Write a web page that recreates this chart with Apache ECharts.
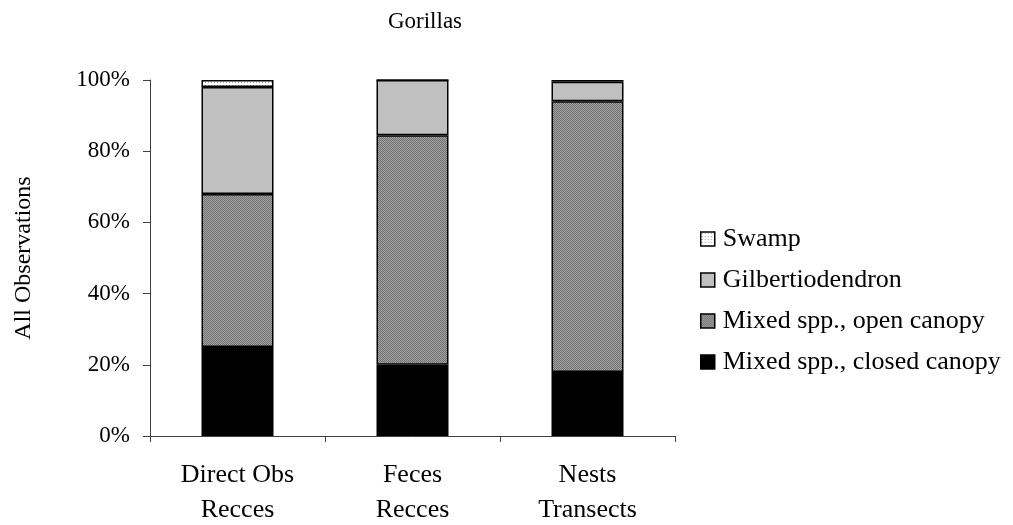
<!DOCTYPE html>
<html><head><meta charset="utf-8">
<script src="https://cdn.jsdelivr.net/npm/echarts@6/dist/echarts.min.js"></script>
<style>html,body{margin:0;padding:0;background:#fff}#c{width:1013px;height:525px}</style>
</head><body><div id="c"></div>
<script>
const categories = ['Direct Obs\nRecces', 'Feces\nRecces', 'Nests\nTransects'];
const closedCanopy = [25, 20, 18];
const openCanopy = [43, 64.5, 76];
const gilbertio = [30, 15.5, 5.5];
const swamp = [2, 0, 0.5];
const seriesNames = ['Mixed spp., closed canopy', 'Mixed spp., open canopy', 'Gilbertiodendron', 'Swamp'];

function makePattern(size, draw) {
  const c = document.createElement('canvas');
  c.width = size; c.height = size;
  const ctx = c.getContext('2d');
  draw(ctx);
  return { image: c, repeat: 'repeat' };
}
const openPat = makePattern(2, ctx => {
  ctx.fillStyle = '#a4a4a4'; ctx.fillRect(0, 0, 2, 2);
  ctx.fillStyle = '#707070'; ctx.fillRect(0, 0, 1, 1); ctx.fillRect(1, 1, 1, 1);
});
const swampPat = makePattern(3, ctx => {
  ctx.fillStyle = '#ffffff'; ctx.fillRect(0, 0, 3, 3);
  ctx.fillStyle = '#a0a0a0'; ctx.fillRect(1, 1, 1, 1);
});
const fills = ['#000000', openPat, '#c0c0c0', swampPat];
const dataSets = [closedCanopy, openCanopy, gilbertio, swamp];
const font = 'Liberation Serif';

const chart = echarts.init(document.getElementById('c'), null, { renderer: 'canvas' });
chart.setOption({
  animation: false,
  backgroundColor: '#fff',
  title: { text: 'Gorillas', left: 425, top: 10, textAlign: 'center', padding: 0,
    textStyle: { fontFamily: font, fontSize: 23, fontWeight: 'normal', color: '#000' } },
  grid: { left: 150, right: 338, top: 80, bottom: 89, containLabel: false, outerBoundsMode: 'none' },
  legend: {
    orient: 'vertical', left: 700, top: 226, padding: 0, itemWidth: 14, itemHeight: 14, itemGap: 15,
    icon: 'rect',
    data: seriesNames.slice().reverse(),
    textStyle: { fontFamily: font, fontSize: 26, color: '#000', lineHeight: 26, padding: [0, 0, 0, 3] },
    itemStyle: { borderColor: '#000', borderWidth: 1.5 }
  },
  xAxis: {
    type: 'category', data: categories,
    axisLine: { lineStyle: { color: '#404040', width: 1 } },
    axisTick: { show: true, length: 6, lineStyle: { color: '#404040' } },
    axisLabel: { fontFamily: font, fontSize: 26, color: '#000', lineHeight: 35, margin: 22 }
  },
  yAxis: {
    type: 'value', min: 0, max: 100, interval: 20,
    name: 'All Observations', nameLocation: 'middle', nameGap: 114, nameRotate: 90,
    nameTextStyle: { fontFamily: font, fontSize: 24, color: '#000' },
    splitLine: { show: false },
    axisLine: { show: true, lineStyle: { color: '#404040', width: 1 } },
    axisTick: { show: true, length: 7, lineStyle: { color: '#404040' } },
    axisLabel: { formatter: '{value}%', fontFamily: font, fontSize: 23, color: '#000', margin: 20 }
  },
  series: seriesNames.map((n, i) => ({
    name: n, type: 'bar', stack: 'a', barWidth: 72,
    data: dataSets[i],
    itemStyle: { color: fills[i], borderColor: '#000', borderWidth: 1.5 }
  }))
});
</script></body></html>
